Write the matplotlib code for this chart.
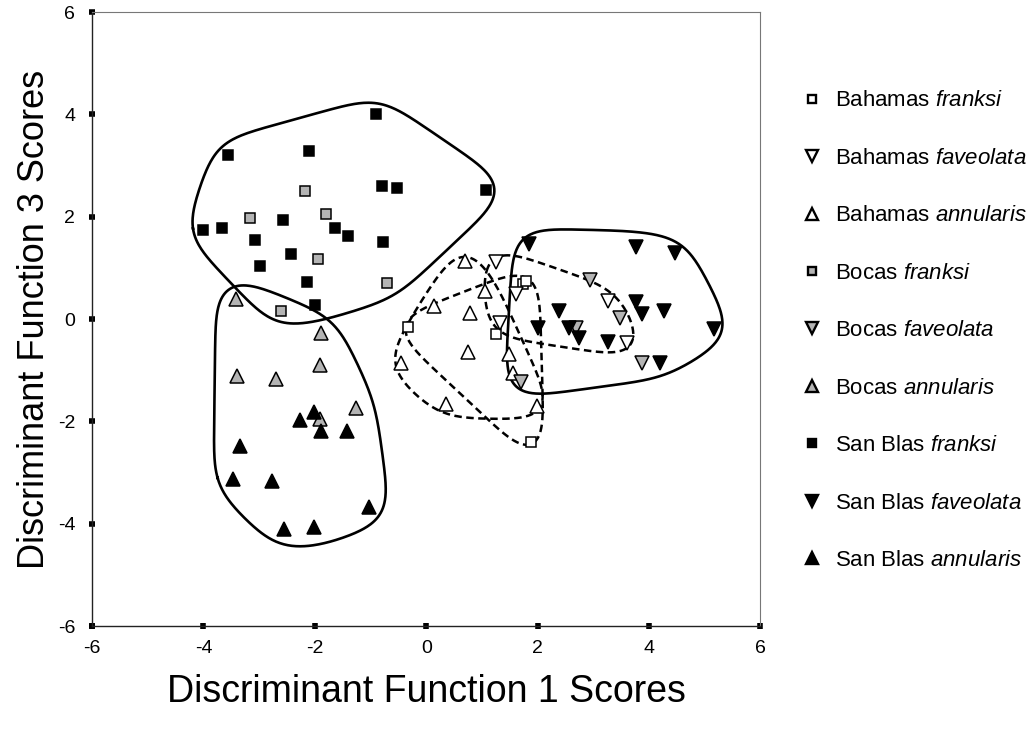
import numpy as np
import matplotlib
matplotlib.use('Agg')
import matplotlib.pyplot as plt
from matplotlib.lines import Line2D

plt.rcParams['font.family'] = ['Liberation Sans', 'DejaVu Sans']
plt.rcParams['mathtext.fontset'] = 'custom'
plt.rcParams['mathtext.rm'] = 'Liberation Sans'
plt.rcParams['mathtext.it'] = 'Liberation Sans:italic'
plt.rcParams['axes.unicode_minus'] = False

# discriminant scores (DF1, DF3)
bah_fra_x = [-0.32, 1.26, 1.74, 1.80, 1.88]
bah_fra_y = [-0.16, -0.29, 0.68, 0.74, -2.40]

bah_fav_x = [1.26, 1.61, 1.32, 3.26, 3.61]
bah_fav_y = [1.11, 0.50, -0.08, 0.35, -0.46]

bah_ann_x = [0.69, 1.05, 0.14, 0.79, 0.75, -0.45, 1.48, 1.55, 0.35, 1.98]
bah_ann_y = [1.14, 0.55, 0.25, 0.12, -0.64, -0.85, -0.68, -1.06, -1.66, -1.69]

boc_fra_x = [-2.17, -3.16, -1.80, -1.94, -0.71, -2.61]
boc_fra_y = [2.50, 1.97, 2.06, 1.18, 0.70, 0.16]

boc_fav_x = [2.94, 3.48, 2.69, 3.87, 1.70]
boc_fav_y = [0.76, 0.03, -0.18, -0.85, -1.22]

boc_ann_x = [-3.42, -1.89, -1.91, -3.39, -2.70, -1.26, -1.91]
boc_ann_y = [0.40, -0.28, -0.90, -1.11, -1.17, -1.73, -1.96]

sb_fra_x = [-0.90, -3.55, -2.10, -0.80, -0.52, 1.08, -4.00, -3.67, -2.57,
            -3.08, -1.64, -1.41, -0.77, -2.43, -2.98, -2.14, -2.00]
sb_fra_y = [4.00, 3.20, 3.28, 2.60, 2.56, 2.53, 1.75, 1.79, 1.94,
            1.54, 1.78, 1.62, 1.50, 1.27, 1.04, 0.72, 0.27]

sb_fav_x = [1.84, 3.76, 4.46, 3.76, 3.87, 4.27, 2.39, 2.01, 2.57, 2.75, 3.26, 5.17, 4.20]
sb_fav_y = [1.46, 1.41, 1.30, 0.33, 0.10, 0.16, 0.16, -0.18, -0.18, -0.36, -0.44, -0.20, -0.85]

sb_ann_x = [-2.01, -2.26, -1.89, -1.42, -3.35, -3.46, -2.77, -1.02, -2.55, -2.02]
sb_ann_y = [-1.81, -1.97, -2.18, -2.18, -2.48, -3.13, -3.16, -3.68, -4.11, -4.07]

ticks = [-6, -4, -2, 0, 2, 4, 6]

gray = '#b4b4b4'
series = [
    (bah_fra_x, bah_fra_y, 's', 'white', 'Bahamas $\\it{franksi}$'),
    (bah_fav_x, bah_fav_y, 'v', 'white', 'Bahamas $\\it{faveolata}$'),
    (bah_ann_x, bah_ann_y, '^', 'white', 'Bahamas $\\it{annularis}$'),
    (boc_fra_x, boc_fra_y, 's', gray, 'Bocas $\\it{franksi}$'),
    (boc_fav_x, boc_fav_y, 'v', gray, 'Bocas $\\it{faveolata}$'),
    (boc_ann_x, boc_ann_y, '^', gray, 'Bocas $\\it{annularis}$'),
    (sb_fra_x, sb_fra_y, 's', 'black', 'San Blas $\\it{franksi}$'),
    (sb_fav_x, sb_fav_y, 'v', 'black', 'San Blas $\\it{faveolata}$'),
    (sb_ann_x, sb_ann_y, '^', 'black', 'San Blas $\\it{annularis}$'),
]


def convex_hull(pts):
    pts = sorted(set(map(tuple, pts)))
    def cross(o, a, b):
        return (a[0]-o[0])*(b[1]-o[1]) - (a[1]-o[1])*(b[0]-o[0])
    lower = []
    for p in pts:
        while len(lower) >= 2 and cross(lower[-2], lower[-1], p) <= 0:
            lower.pop()
        lower.append(p)
    upper = []
    for p in reversed(pts):
        while len(upper) >= 2 and cross(upper[-2], upper[-1], p) <= 0:
            upper.pop()
        upper.append(p)
    return np.array(lower[:-1] + upper[:-1])


def smooth_closed(h, n=500, sigma=22):
    # resample the closed outline evenly and blur it a bit, so it looks hand drawn
    h = np.vstack([h, h[:1]])
    seg = np.hypot(*np.diff(h, axis=0).T)
    s = np.concatenate([[0], np.cumsum(seg)])
    t = np.linspace(0, s[-1], n, endpoint=False)
    x = np.interp(t, s, h[:, 0])
    y = np.interp(t, s, h[:, 1])
    sig = sigma / (s[-1] / n)
    k = np.arange(-int(3*sig)-1, int(3*sig)+2)
    w = np.exp(-0.5*(k/sig)**2)
    w /= w.sum()
    pad = len(k)
    xs = np.convolve(np.concatenate([x[-pad:], x, x[:pad]]), w, 'same')[pad:-pad]
    ys = np.convolve(np.concatenate([y[-pad:], y, y[:pad]]), w, 'same')[pad:-pad]
    out = np.column_stack([xs, ys])
    return np.vstack([out, out[:1]])


def draw_hull(ax, xs, ys, radius, **kw):
    # rounded hull around the points, built in pixel space
    disp = ax.transData.transform(np.column_stack([xs, ys]))
    ang = np.linspace(0, 2*np.pi, 40, endpoint=False)
    ring = np.column_stack([np.cos(ang), np.sin(ang)]) * radius
    cloud = (disp[:, None, :] + ring[None, :, :]).reshape(-1, 2)
    h = smooth_closed(convex_hull(cloud))
    dat = ax.transData.inverted().transform(h)
    ax.plot(dat[:, 0], dat[:, 1], color='black', **kw)


fig = plt.figure(figsize=(10.3, 7.29), dpi=100)
ax = fig.add_axes([0.0893, 0.141, 0.649, 0.8425])
ax.set_xlim(-6, 6)
ax.set_ylim(-6, 6)
ax.set_xticks(ticks)
ax.set_yticks(ticks)

solid = dict(lw=1.9, zorder=2)
dashed = dict(lw=1.8, ls=(0, (3, 1.8)), zorder=2)
draw_hull(ax, sb_fra_x + boc_fra_x, sb_fra_y + boc_fra_y, 17, **solid)
draw_hull(ax, sb_ann_x + boc_ann_x, sb_ann_y + boc_ann_y, 20, **solid)
draw_hull(ax, sb_fav_x + boc_fav_x, sb_fav_y + boc_fav_y, 16, **solid)
draw_hull(ax, bah_fra_x, bah_fra_y, 13, **dashed)
draw_hull(ax, bah_fav_x, bah_fav_y, 14, **dashed)
draw_hull(ax, bah_ann_x, bah_ann_y, 14, **dashed)

handles = []
for xs, ys, m, fc, lab in series:
    ms = 6.5 if m == 's' else 9.5
    ax.plot(xs, ys, ls='none', marker=m, ms=ms, mfc=fc, mec='black',
            mew=1.1, zorder=3)
    handles.append(Line2D([], [], ls='none', marker=m, ms=5.5 if m == 's' else 8,
                          mfc=fc, mec='black', mew=1.7, label=lab))

for side in ['top', 'right']:
    ax.spines[side].set_color('#777777')
    ax.spines[side].set_linewidth(0.8)
for side in ['left', 'bottom']:
    ax.spines[side].set_color('#222222')
    ax.spines[side].set_linewidth(1.0)
ax.tick_params(direction='inout', length=4, width=4, labelsize=14, color='black')
ax.tick_params(axis='y', pad=10)
ax.tick_params(axis='x', pad=8)

ax.set_xlabel('Discriminant Function 1 Scores', fontsize=27, labelpad=12)
ax.set_ylabel('Discriminant Function 3 Scores', fontsize=26, labelpad=4)

fig.legend(handles=handles, loc='upper left', bbox_to_anchor=(0.780, 0.876),
           frameon=False, fontsize=16, handlelength=0.8, handletextpad=0.6,
           labelspacing=1.64, borderaxespad=0, borderpad=0)

fig.savefig('out.png', dpi=100)
